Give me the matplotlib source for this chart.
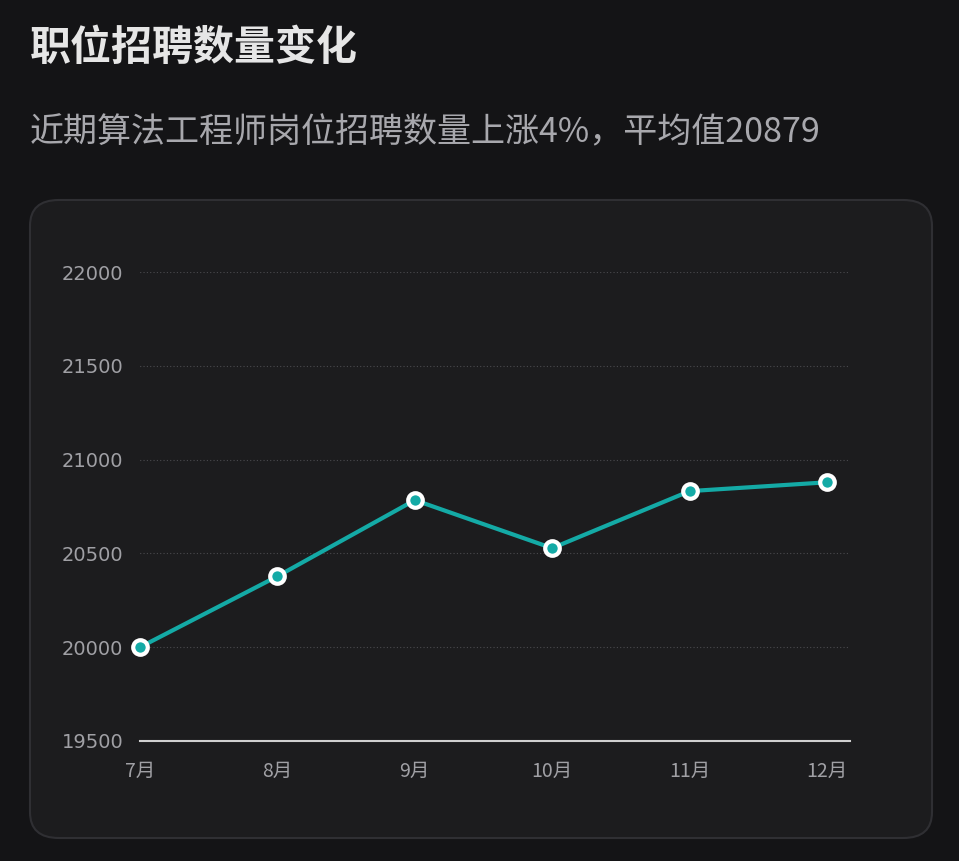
import matplotlib
matplotlib.use("Agg")
import matplotlib.pyplot as plt
from matplotlib.patches import FancyBboxPatch

plt.rcParams['font.family'] = ['Noto Sans CJK SC', 'DejaVu Sans']

months = ["7月", "8月", "9月", "10月", "11月", "12月"]
values = [20000, 20378, 20784, 20528, 20832, 20879]
yticks = [19500, 20000, 20500, 21000, 21500, 22000]

W, H = 959, 861
fig = plt.figure(figsize=(W/100, H/100), dpi=100)
fig.patch.set_facecolor("#141416")

card = FancyBboxPatch((30/W, (H-838)/H), 902/W, 638/H,
                      boxstyle="round,pad=0,rounding_size=0.03",
                      transform=fig.transFigure, facecolor="#1c1c1e",
                      edgecolor="#2f2f33", linewidth=1.5, zorder=-5)
fig.patches.append(card)

fig.text(30/W, 1-48/H, "职位招聘数量变化", color="#e6e6e6", fontsize=29.5,
         fontweight="bold", va="center")
fig.text(30/W, 1-133/H, "近期算法工程师岗位招聘数量上涨4%，平均值20879",
         color="#a8a8ad", fontsize=24.5, va="center")

x0, x1 = 140, 850
y0, y1 = 741, 272
ax = fig.add_axes([x0/W, (H-y0)/H, (x1-x0)/W, (y0-y1)/H], zorder=5)
ax.set_facecolor("none")
xs = list(range(len(months)))
ax.set_xlim(0, 5 * (x1-x0)/(827-140))
ax.set_ylim(19500, 22000)
for t in yticks[1:]:
    ax.axhline(t, color="#4a4a4e", linestyle=(0, (1, 2)), linewidth=0.8, zorder=0,
               xmin=-0.01)
ax.plot(xs, values, color="#14aaa6", linewidth=3, clip_on=False, zorder=3)
ax.scatter(xs, values, s=110, facecolor="#14aaa6", edgecolor="white",
           linewidth=3, clip_on=False, zorder=4)
for s in ["top", "right", "left"]:
    ax.spines[s].set_visible(False)
ax.spines["bottom"].set_color("#d0d0d0")
ax.spines["bottom"].set_linewidth(1.5)
ax.set_yticks(yticks)
ax.set_yticklabels([str(t) for t in yticks])
ax.set_xticks(xs)
ax.set_xticklabels(months)
ax.tick_params(axis="both", length=0, colors="#a0a0a5", labelsize=14)
ax.tick_params(axis="y", pad=12)
ax.tick_params(axis="x", pad=14)
for lab in ax.get_yticklabels():
    lab.set_fontfamily(["DejaVu Sans"])
fig.savefig("out.png", dpi=100, facecolor=fig.get_facecolor())
